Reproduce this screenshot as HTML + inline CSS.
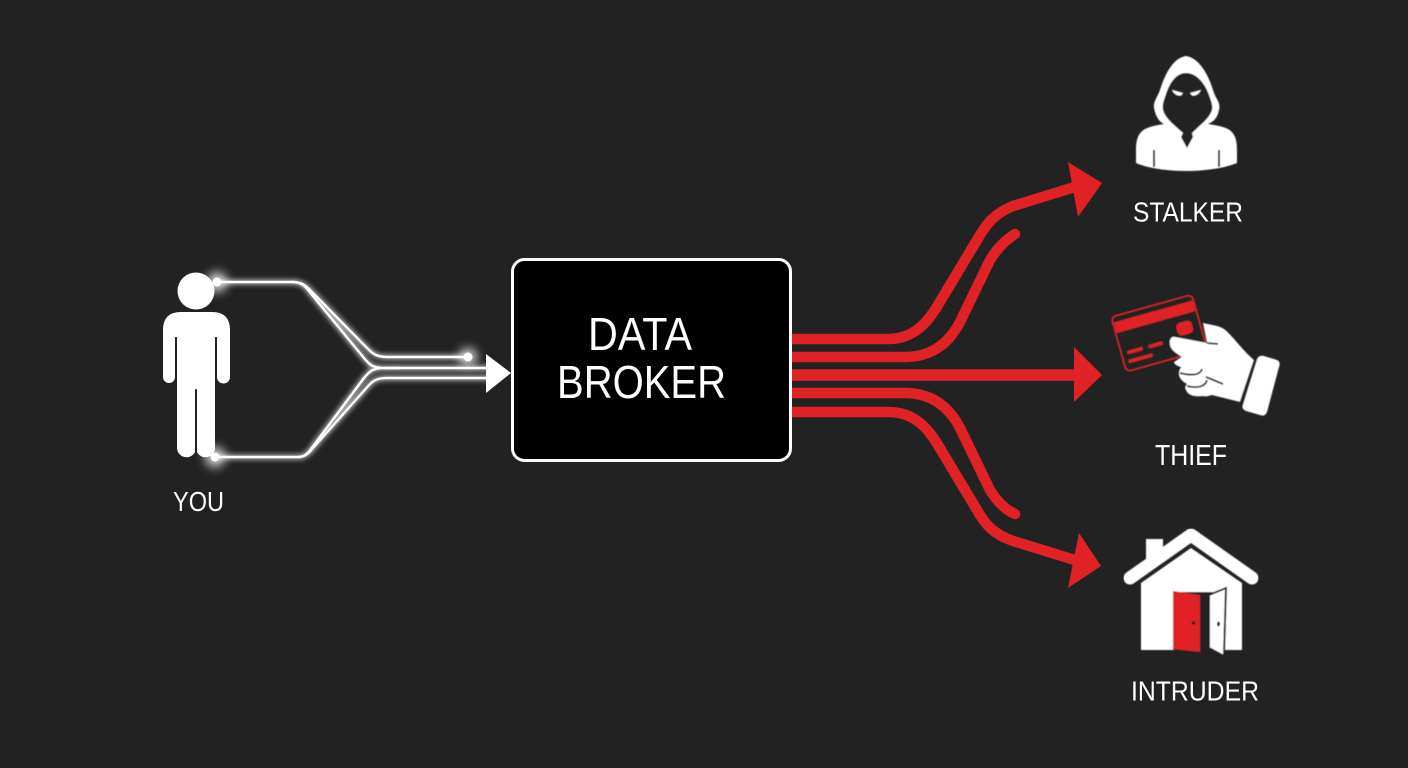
<!DOCTYPE html>
<html>
<head>
<meta charset="utf-8">
<style>
html,body{margin:0;padding:0;background:#222222;width:1408px;height:768px;overflow:hidden}
svg{display:block}
text{font-family:"Liberation Sans",sans-serif;fill:#fff}
</style>
</head>
<body>
<svg width="1408" height="768" viewBox="0 0 1408 768" xmlns="http://www.w3.org/2000/svg">
<defs>
<filter id="g" x="-20%" y="-20%" width="140%" height="140%"><feGaussianBlur stdDeviation="2.5"/></filter>
<filter id="g2" x="-150%" y="-150%" width="400%" height="400%"><feGaussianBlur stdDeviation="5"/></filter>
<filter id="s" x="-5%" y="-5%" width="110%" height="110%"><feGaussianBlur stdDeviation="0.5"/></filter>
</defs>
<rect width="1408" height="768" fill="#222222"/>

<!-- person -->
<g fill="#fff">
<circle cx="196" cy="291" r="18.500"/>
<path d="M163 377V330Q163 312 181 312H212Q230 312 230 330V377A6.500 6.500 0 0 1 217 377V337H215V448A9.500 9.500 0 0 1 197 452V390A1 1 0 0 0 195 390V452A9.500 9.500 0 0 1 177 448V337H175V377A6 6 0 0 1 163 377Z"/>
</g>

<!-- white lines glow -->
<g fill="none" stroke="#fff" stroke-width="5.500" opacity="0.6" filter="url(#g)">
<path d="M217 282H292C300 282 304 284 309 289L368 349C374 355 378 357 388 357H468"/>
<path d="M292 282C300 282 304 285 308 290L364 358C369 364 372 368 384 368H490"/>
<path d="M215 457H298C305 457 309 453 313 448L370 384C375 379 380 378 388 378H490"/>
<path d="M298 457C305 457 308 453 311 449L364 378C369 372 372 368 384 368H400"/>
</g>
<circle cx="217" cy="282" r="10" fill="#fff" opacity="0.8" filter="url(#g2)"/>
<circle cx="215" cy="457" r="10" fill="#fff" opacity="0.8" filter="url(#g2)"/>
<circle cx="468" cy="357" r="9" fill="#fff" opacity="0.8" filter="url(#g2)"/>
<!-- white lines -->
<g fill="none" stroke="#fff" stroke-width="2.400">
<path d="M217 282H292C300 282 304 284 309 289L368 349C374 355 378 357 388 357H468"/>
<path d="M292 282C300 282 304 285 308 290L364 358C369 364 372 368 384 368H490"/>
<path d="M215 457H298C305 457 309 453 313 448L370 384C375 379 380 378 388 378H490"/>
<path d="M298 457C305 457 308 453 311 449L364 378C369 372 372 368 384 368H400"/>
</g>
<circle cx="217" cy="282" r="4.500" fill="#fff"/>
<circle cx="215" cy="457" r="4.500" fill="#fff"/>
<circle cx="468" cy="357" r="4.500" fill="#fff"/>
<polygon points="486,354 511,373 486,393" fill="#fff"/>

<!-- red lines -->
<g fill="none" stroke="#e02226" stroke-width="10.500">
<path d="M790 339H888C912 339 926 325 938 305L977 240C985 226 993 214 1013 206L1078 186"/>
<path d="M790 357H905C930 357 948 345 960 322L990 260C998 247 1006 240 1015 234" stroke-linecap="round"/>
<path d="M790 375H1080" stroke-width="11.500"/>
<path d="M790 393H905C930 393 948 405 960 428L990 490C998 503 1006 510 1015 514" stroke-linecap="round"/>
<path d="M790 412H888C912 412 926 425 938 445L977 510C985 524 993 534 1013 541L1078 561"/>
</g>
<g fill="#e02226">
<polygon points="1068,162 1102,183 1078,217"/>
<polygon points="1074,347 1102,375 1074,402"/>
<polygon points="1079,533 1101,566 1068,588"/>
</g>

<!-- box -->
<rect x="512.500" y="259.500" width="278" height="201" rx="12" ry="12" fill="#000" stroke="#fff" stroke-width="3"/>
<text x="588" y="350" font-size="46.500" textLength="104" lengthAdjust="spacingAndGlyphs">DATA</text>
<text x="557" y="398" font-size="46.500" textLength="169" lengthAdjust="spacingAndGlyphs">BROKER</text>

<text x="173" y="511" font-size="28" textLength="51" lengthAdjust="spacingAndGlyphs">YOU</text>

<!-- stalker -->
<g filter="url(#s)">
<path fill="#fff" d="M1186 56C1199 58 1208 74 1213 90C1216 100 1221 102 1219 110C1217 120 1212 122 1208 124C1214 125 1222 126 1228 129C1235 133 1237 140 1237 150V163C1225 168 1205 171 1186 171C1167 171 1147 168 1136 163V150C1136 140 1138 133 1145 129C1151 126 1158 125 1164 124C1160 122 1156 118 1154 108C1153 102 1157 98 1160 90C1165 74 1173 58 1186 56Z"/>
<path fill="#222" d="M1186 73C1198 73 1206 86 1209 95C1211 101 1213 105 1212 110C1210 118 1200 125 1192 133L1193 137L1187 148L1181 137L1183 133C1174 125 1165 118 1163 110C1162 104 1164 100 1166 94C1169 85 1175 73 1186 73Z"/>
<path fill="#fff" d="M1172 90L1183 93L1181 95.500C1177 96 1174 94 1172 90ZM1201 90L1190 93L1192 95.500C1196 96 1199 94 1201 90Z"/>
<path fill="none" stroke="#222" stroke-width="2" d="M1154 150V167M1219 150V167"/>
</g>
<text x="1133" y="221.500" font-size="28" textLength="110" lengthAdjust="spacingAndGlyphs">STALKER</text>

<!-- thief -->
<g filter="url(#s)">
<g transform="translate(1111 317) rotate(-15.600)">
<rect x="0" y="0" width="84" height="57" rx="5" fill="#222" stroke="#e02226" stroke-width="1.500"/>
<path fill="#e02226" d="M1 6H83V17H1Z"/>
<rect x="60" y="24" width="16" height="13" rx="4.500" fill="#e02226"/>
<rect x="6" y="37" width="16" height="3.500" rx="1.500" fill="#e02226"/>
<rect x="28" y="37" width="15" height="3.500" rx="1.500" fill="#e02226"/>
<rect x="5" y="46" width="25" height="3.500" rx="1.500" fill="#e02226"/>
</g>
<path fill="#fff" d="M1203 323C1212 325 1220 326 1224 329C1232 335 1242 350 1254 360L1240 402L1212 395C1208 396 1206 397 1203 396C1196 397 1188 396 1186 390C1184 387 1186 385 1187 384C1181 381 1178 376 1179 372C1179 370 1180 369 1181 367C1177 366 1174 364 1174 362L1182 357C1176 353 1171 350 1170 345C1169 340 1171 336 1175 337L1207 343Z"/>
<path fill="none" stroke="#222" stroke-width="1.800" d="M1207 343L1218 344M1180 373C1192 376 1200 375 1202 369M1187 386C1195 388 1205 388 1207 380M1206 377L1223 384"/>
<path fill="#fff" d="M1264 356L1277 360Q1281 362 1279 367L1267 412Q1265 417 1260 415L1246 411Q1241 409 1243 404L1257 359Q1259 355 1264 356Z"/>
</g>
<text x="1155" y="465" font-size="29" textLength="72" lengthAdjust="spacingAndGlyphs">THIEF</text>

<!-- house -->
<g filter="url(#s)">
<rect x="1146" y="539" width="17" height="24" fill="#fff"/>
<path fill="none" stroke="#fff" stroke-width="13" stroke-linecap="round" stroke-linejoin="round" d="M1130 578L1191 535L1252 578"/>
<path fill="#fff" d="M1141 650V583L1191 548L1242 583V650Z"/>
<rect x="1173" y="592" width="40" height="60" fill="#222"/>
<path fill="#e02226" d="M1173 591L1200 595V652L1173 649Z"/>
<path fill="#fff" stroke="#222" stroke-width="2" d="M1209 595L1226 588L1224 656L1209 648Z"/>
<circle cx="1193.500" cy="623" r="1.800" fill="#222"/>
<ellipse cx="1218.500" cy="624" rx="1.500" ry="2.500" fill="#222"/>
</g>
<text x="1131" y="700.500" font-size="28" textLength="128" lengthAdjust="spacingAndGlyphs">INTRUDER</text>
</svg>
</body>
</html>
